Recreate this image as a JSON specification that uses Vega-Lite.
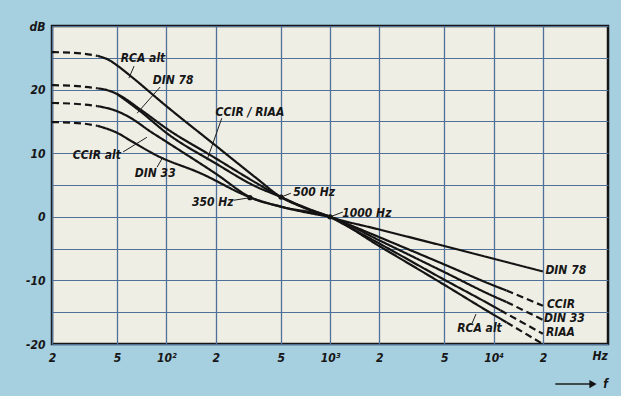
{
  "$schema": "https://vega.github.io/schema/vega-lite/v6.json",
  "width": 556,
  "height": 318,
  "autosize": {"type": "none"},
  "padding": {"left": 52, "top": 26, "right": 13, "bottom": 52},
  "background": "#a6cfe0",
  "config": {
    "view": {"fill": "#efeee5", "stroke": "#161616", "strokeWidth": 2.5},
    "font": "Liberation Sans Narrow, DejaVu Sans Condensed, Liberation Sans, sans-serif"
  },
  "datasets": {
    "curves": [
      {"id": "rca1", "seg": "d", "f": 20, "db": 25.9}, {"id": "rca1", "seg": "d", "f": 30, "db": 25.7}, {"id": "rca1", "seg": "d", "f": 38, "db": 25.3},
      {"id": "rca2", "seg": "s", "f": 38, "db": 25.3}, {"id": "rca2", "seg": "s", "f": 45, "db": 24.6}, {"id": "rca2", "seg": "s", "f": 50, "db": 23.8}, {"id": "rca2", "seg": "s", "f": 60, "db": 22.2}, {"id": "rca2", "seg": "s", "f": 100, "db": 17.4}, {"id": "rca2", "seg": "s", "f": 200, "db": 11.2}, {"id": "rca2", "seg": "s", "f": 350, "db": 6.2}, {"id": "rca2", "seg": "s", "f": 502, "db": 3.1}, {"id": "rca2", "seg": "s", "f": 700, "db": 1.4}, {"id": "rca2", "seg": "s", "f": 1000, "db": 0}, {"id": "rca2", "seg": "s", "f": 2000, "db": -4.6}, {"id": "rca2", "seg": "s", "f": 5000, "db": -10.7}, {"id": "rca2", "seg": "s", "f": 10000, "db": -15.4}, {"id": "rca2", "seg": "s", "f": 12000, "db": -16.6},
      {"id": "rca3", "seg": "d", "f": 12000, "db": -16.6}, {"id": "rca3", "seg": "d", "f": 20000, "db": -20.0},
      {"id": "din78a", "seg": "d", "f": 20, "db": 20.7}, {"id": "din78a", "seg": "d", "f": 30, "db": 20.5}, {"id": "din78a", "seg": "d", "f": 38, "db": 20.2},
      {"id": "din78b", "seg": "s", "f": 38, "db": 20.2}, {"id": "din78b", "seg": "s", "f": 45, "db": 19.8}, {"id": "din78b", "seg": "s", "f": 50, "db": 19.3}, {"id": "din78b", "seg": "s", "f": 70, "db": 16.8}, {"id": "din78b", "seg": "s", "f": 100, "db": 13.9}, {"id": "din78b", "seg": "s", "f": 200, "db": 9.2}, {"id": "din78b", "seg": "s", "f": 350, "db": 5.4}, {"id": "din78b", "seg": "s", "f": 502, "db": 3.1}, {"id": "din78b", "seg": "s", "f": 700, "db": 1.5}, {"id": "din78b", "seg": "s", "f": 1000, "db": 0}, {"id": "din78b", "seg": "s", "f": 2000, "db": -2.0}, {"id": "din78b", "seg": "s", "f": 5000, "db": -4.6}, {"id": "din78b", "seg": "s", "f": 10000, "db": -6.6}, {"id": "din78b", "seg": "s", "f": 20000, "db": -8.6},
      {"id": "riaalow", "seg": "s", "f": 50, "db": 19.3}, {"id": "riaalow", "seg": "s", "f": 70, "db": 16.5}, {"id": "riaalow", "seg": "s", "f": 100, "db": 13.2}, {"id": "riaalow", "seg": "s", "f": 200, "db": 8.4}, {"id": "riaalow", "seg": "s", "f": 350, "db": 4.8}, {"id": "riaalow", "seg": "s", "f": 502, "db": 3.1}, {"id": "riaalow", "seg": "s", "f": 700, "db": 1.4}, {"id": "riaalow", "seg": "s", "f": 1000, "db": 0},
      {"id": "ccirAa", "seg": "d", "f": 20, "db": 17.9}, {"id": "ccirAa", "seg": "d", "f": 30, "db": 17.7}, {"id": "ccirAa", "seg": "d", "f": 38, "db": 17.4},
      {"id": "ccirAb", "seg": "s", "f": 38, "db": 17.4}, {"id": "ccirAb", "seg": "s", "f": 50, "db": 16.6}, {"id": "ccirAb", "seg": "s", "f": 60, "db": 15.6}, {"id": "ccirAb", "seg": "s", "f": 80, "db": 13.4}, {"id": "ccirAb", "seg": "s", "f": 100, "db": 11.8}, {"id": "ccirAb", "seg": "s", "f": 200, "db": 6.8}, {"id": "ccirAb", "seg": "s", "f": 330, "db": 3.0}, {"id": "ccirAb", "seg": "s", "f": 500, "db": 1.6}, {"id": "ccirAb", "seg": "s", "f": 1000, "db": 0},
      {"id": "din33a", "seg": "d", "f": 20, "db": 14.9}, {"id": "din33a", "seg": "d", "f": 30, "db": 14.7}, {"id": "din33a", "seg": "d", "f": 38, "db": 14.3},
      {"id": "din33b", "seg": "s", "f": 38, "db": 14.3}, {"id": "din33b", "seg": "s", "f": 50, "db": 13.2}, {"id": "din33b", "seg": "s", "f": 62, "db": 11.8}, {"id": "din33b", "seg": "s", "f": 88, "db": 9.6}, {"id": "din33b", "seg": "s", "f": 160, "db": 6.9}, {"id": "din33b", "seg": "s", "f": 330, "db": 3.0}, {"id": "din33b", "seg": "s", "f": 500, "db": 1.6}, {"id": "din33b", "seg": "s", "f": 1000, "db": 0}, {"id": "din33b", "seg": "s", "f": 2000, "db": -3.7}, {"id": "din33b", "seg": "s", "f": 5000, "db": -8.7}, {"id": "din33b", "seg": "s", "f": 10000, "db": -12.5}, {"id": "din33b", "seg": "s", "f": 12000, "db": -13.4},
      {"id": "din33c", "seg": "d", "f": 12000, "db": -13.4}, {"id": "din33c", "seg": "d", "f": 20000, "db": -16.2},
      {"id": "ccirb", "seg": "s", "f": 1000, "db": 0}, {"id": "ccirb", "seg": "s", "f": 2000, "db": -3.2}, {"id": "ccirb", "seg": "s", "f": 5000, "db": -7.5}, {"id": "ccirb", "seg": "s", "f": 10000, "db": -10.8}, {"id": "ccirb", "seg": "s", "f": 12000, "db": -11.6},
      {"id": "ccirc", "seg": "d", "f": 12000, "db": -11.6}, {"id": "ccirc", "seg": "d", "f": 20000, "db": -14.0},
      {"id": "riaab", "seg": "s", "f": 1000, "db": 0}, {"id": "riaab", "seg": "s", "f": 2000, "db": -4.2}, {"id": "riaab", "seg": "s", "f": 5000, "db": -9.9}, {"id": "riaab", "seg": "s", "f": 10000, "db": -14.1}, {"id": "riaab", "seg": "s", "f": 11000, "db": -14.7},
      {"id": "riaac", "seg": "d", "f": 11000, "db": -14.7}, {"id": "riaac", "seg": "d", "f": 20000, "db": -18.4}
    ],
    "leaders": [
      {"f": 63.5, "db": 23.7, "f2": 59, "db2": 21.8, "w": 1},
      {"f": 91.6, "db": 20.4, "f2": 66.3, "db2": 16.3, "w": 1},
      {"f": 218, "db": 15.5, "f2": 177, "db2": 8.9, "w": 1},
      {"f": 54.4, "db": 10.2, "f2": 76, "db2": 12.5, "w": 1},
      {"f": 87.7, "db": 7.8, "f2": 95.3, "db2": 9.4, "w": 1},
      {"f": 258, "db": 2.6, "f2": 324, "db2": 3.0, "w": 1},
      {"f": 576, "db": 3.7, "f2": 502, "db2": 3.1, "w": 1},
      {"f": 1199, "db": 0.75, "f2": 1028, "db2": 0.1, "w": 1},
      {"f": 7800, "db": -15.3, "f2": 7400, "db2": -16.7, "w": 1},
      {"f": 23800, "db": -26.3, "f2": 39000, "db2": -26.3, "w": 1.6}
    ],
    "dots": [
      {"f": 324, "db": 3.0}, {"f": 502, "db": 3.1}, {"f": 1000, "db": 0}
    ],
    "arrow": [{"f": 40500, "db": -26.3}],
    "labels": [
      {"t": "RCA alt", "f": 72, "db": 25.0},
      {"t": "DIN 78", "f": 110, "db": 21.5},
      {"t": "CCIR / RIAA", "f": 324, "db": 16.5},
      {"t": "CCIR alt", "f": 37.6, "db": 9.7},
      {"t": "DIN 33", "f": 85.5, "db": 6.9},
      {"t": "350 Hz", "f": 192, "db": 2.3},
      {"t": "500 Hz", "f": 800, "db": 3.9},
      {"t": "1000 Hz", "f": 1680, "db": 0.6},
      {"t": "DIN 78", "f": 27600, "db": -8.4},
      {"t": "CCIR", "f": 25800, "db": -13.7},
      {"t": "DIN 33", "f": 27100, "db": -15.9},
      {"t": "RIAA", "f": 25600, "db": -18.1},
      {"t": "RCA alt", "f": 8200, "db": -17.5},
      {"t": "Hz", "f": 44700, "db": -21.9},
      {"t": "f", "f": 48300, "db": -26.3}
    ]
  },
  "encoding": {
    "x": {
      "field": "f", "type": "quantitative",
      "scale": {"type": "log", "domain": [20, 50000], "nice": false},
      "axis": {
        "title": null,
        "values": [20, 50, 100, 200, 500, 1000, 2000, 5000, 10000, 20000],
        "labelExpr": "datum.value == 100 ? '10²' : datum.value == 1000 ? '10³' : datum.value == 10000 ? '10⁴' : substring(toString(datum.value), 0, 1)",
        "grid": true, "gridColor": "#4f7099", "gridWidth": 1.3, "gridOpacity": 1,
        "ticks": false, "domain": false,
        "labelFontSize": 12, "labelFontStyle": "italic", "labelFontWeight": "bold",
        "labelColor": "#161616", "labelPadding": 8, "labelFlush": false, "labelOverlap": false, "labelBound": false
      }
    },
    "y": {
      "field": "db", "type": "quantitative",
      "scale": {"domain": [-20, 30], "nice": false, "zero": false},
      "axis": {
        "title": null,
        "values": [-20, -15, -10, -5, 0, 5, 10, 15, 20, 25, 30],
        "labelExpr": "datum.value == 30 ? 'dB' : (datum.value % 10 == 0 ? toString(datum.value) : '')",
        "grid": true, "gridColor": "#4f7099", "gridWidth": 1.2, "gridOpacity": 1,
        "ticks": false, "domain": false,
        "labelFontSize": 12, "labelFontStyle": "italic", "labelFontWeight": "bold",
        "labelColor": "#161616", "labelPadding": 7, "labelFlush": false, "labelOverlap": false, "labelBound": false
      }
    }
  },
  "layer": [
    {
      "data": {"name": "curves"},
      "mark": {"type": "line", "color": "#141414", "strokeWidth": 2.2, "interpolate": "monotone"},
      "encoding": {
        "detail": {"field": "id"},
        "strokeDash": {"field": "seg", "type": "nominal", "scale": {"domain": ["s", "d"], "range": [[1, 0], [7, 4]]}, "legend": null}
      }
    },
    {
      "data": {"name": "leaders"},
      "mark": {"type": "rule", "color": "#1e1e1e"},
      "encoding": {
        "x2": {"field": "f2"},
        "y2": {"field": "db2"},
        "strokeWidth": {"field": "w", "type": "quantitative", "scale": null}
      }
    },
    {
      "data": {"name": "dots"},
      "mark": {"type": "point", "filled": true, "color": "#141414", "size": 28, "opacity": 1}
    },
    {
      "data": {"name": "arrow"},
      "mark": {"type": "point", "shape": "triangle-right", "filled": true, "color": "#141414", "size": 70, "opacity": 1}
    },
    {
      "data": {"name": "labels"},
      "mark": {"type": "text", "fontSize": 12, "fontStyle": "italic", "fontWeight": "bold", "color": "#161616", "align": "center", "baseline": "middle"},
      "encoding": {"text": {"field": "t"}}
    }
  ]
}
